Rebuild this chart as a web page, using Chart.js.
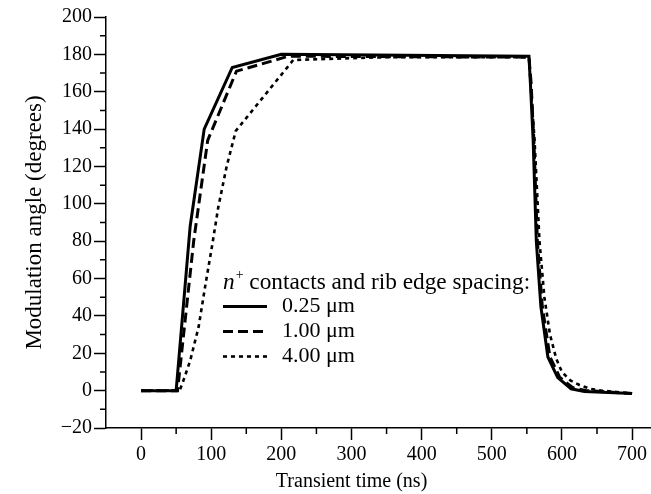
<!DOCTYPE html>
<html>
<head>
<meta charset="utf-8">
<script src="https://cdn.jsdelivr.net/npm/chart.js@4.4.1/dist/chart.umd.min.js"></script>
<style>
  html, body { margin: 0; padding: 0; background: #fff; }
  #wrap { width: 651px; height: 494px; position: relative; }
</style>
</head>
<body>
<div id="wrap"><canvas id="c" width="651" height="494"></canvas></div>
<script>
// ---- data ----
const seriesLabels = ['0.25 \u03bcm', '1.00 \u03bcm', '4.00 \u03bcm'];

const t025 = [0, 50, 70, 90, 130, 200, 553, 555, 559, 563.5, 570, 580, 594, 613, 632, 700];
const v025 = [0, 0, 88, 140, 173, 180, 179, 165, 134, 80, 45, 18, 7, 1, -0.5, -1.5];

const t100 = [0, 52, 75, 95, 136, 210, 553, 556, 560, 565, 572, 583, 597, 616, 635, 700];
const v100 = [0, 0, 80, 134, 171, 179, 178.5, 165, 134, 80, 45, 18, 7, 1.5, 0, -1.5];

const t400 = [0, 55, 60, 70, 82, 91, 101, 110, 122, 135, 217, 350, 553, 556, 561, 568, 575, 583, 592, 600, 612, 625, 640, 656, 700];
const v400 = [0, 0, 5, 16, 34, 55, 77, 98, 120, 139, 177, 178.5, 178.5, 160, 134, 80, 50, 30, 17, 10, 5.5, 3, 1, 0, -1.5];

const xTickValues = [0, 100, 200, 300, 400, 500, 600, 700];
const yTickValues = [-20, 0, 20, 40, 60, 80, 100, 120, 140, 160, 180, 200];
const xMinorValues = [50, 150, 250, 350, 450, 550, 650];
const yMinorValues = [-10, 10, 30, 50, 70, 90, 110, 130, 150, 170, 190];

const xTitle = 'Transient time (ns)';
const yTitle = 'Modulation angle (degrees)';
const legendTitleItalic = 'n';
const legendTitleSup = '+';
const legendTitleRest = ' contacts and rib edge spacing:';

// ---- build ----
function pts(t, v) { return t.map((x, i) => ({ x: x, y: v[i] })); }

const SERIF = '"Liberation Serif", "DejaVu Serif", serif';
const dashes = [[], [10, 5], [4, 4]];
const widths = [3, 3, 2.6];

const datasets = [
  { label: seriesLabels[0], data: pts(t025, v025) },
  { label: seriesLabels[1], data: pts(t100, v100) },
  { label: seriesLabels[2], data: pts(t400, v400) }
].map((d, i) => Object.assign(d, {
  borderColor: '#000',
  backgroundColor: '#000',
  borderWidth: widths[i],
  borderDash: dashes[i],
  pointRadius: 0,
  tension: 0,
  fill: false
}));

const minorTicks = {
  id: 'minorTicks',
  afterDraw(chart) {
    const ctx = chart.ctx;
    const xs = chart.scales.x, ys = chart.scales.y;
    ctx.save();
    ctx.strokeStyle = '#000';
    ctx.lineWidth = 1.5;
    ctx.beginPath();
    xMinorValues.forEach(v => {
      const px = xs.getPixelForValue(v);
      ctx.moveTo(px, xs.top);
      ctx.lineTo(px, xs.top + 6);
    });
    yMinorValues.forEach(v => {
      const py = ys.getPixelForValue(v);
      ctx.moveTo(ys.right, py);
      ctx.lineTo(ys.right - 6, py);
    });
    ctx.stroke();
    ctx.restore();
  }
};

// x-axis title, centred a little left of the middle of the tick range
const xAxisTitle = {
  id: 'xAxisTitle',
  afterDraw(chart) {
    const ctx = chart.ctx;
    const xs = chart.scales.x;
    const cx = (xs.getPixelForValue(xTickValues[0]) + xs.getPixelForValue(xTickValues[xTickValues.length - 1])) / 2 - 35;
    ctx.save();
    ctx.fillStyle = '#000';
    ctx.font = '20px ' + SERIF;
    ctx.textAlign = 'center';
    ctx.textBaseline = 'middle';
    ctx.fillText(xTitle, cx, xs.bottom - 12);
    ctx.restore();
  }
};

const insideLegend = {
  id: 'insideLegend',
  afterDatasetsDraw(chart) {
    const ctx = chart.ctx;
    const a = chart.chartArea;
    const x0 = a.left + 117;
    const yTitleRow = a.top + 266;
    const firstGap = 23.5;
    const rowGap = 25;
    ctx.save();
    ctx.fillStyle = '#000';
    ctx.textBaseline = 'middle';
    ctx.textAlign = 'left';
    // title with italic n and superscript +
    ctx.font = 'italic 23.3px ' + SERIF;
    ctx.fillText(legendTitleItalic, x0, yTitleRow);
    let w = ctx.measureText(legendTitleItalic).width;
    ctx.font = '14px ' + SERIF;
    ctx.fillText(legendTitleSup, x0 + w + 1, yTitleRow - 8);
    w += ctx.measureText(legendTitleSup).width + 1;
    ctx.font = '23.3px ' + SERIF;
    ctx.fillText(legendTitleRest, x0 + w, yTitleRow);
    chart.data.datasets.forEach((ds, i) => {
      const y = yTitleRow + firstGap + rowGap * i;
      ctx.strokeStyle = ds.borderColor;
      ctx.lineWidth = ds.borderWidth;
      ctx.setLineDash(ds.borderDash);
      ctx.beginPath();
      ctx.moveTo(x0, y);
      ctx.lineTo(x0 + 44, y);
      ctx.stroke();
      ctx.setLineDash([]);
      ctx.font = '22px ' + SERIF;
      ctx.fillText(ds.label, x0 + 59, y);
    });
    ctx.restore();
  }
};

new Chart(document.getElementById('c'), {
  type: 'line',
  data: { datasets: datasets },
  plugins: [minorTicks, xAxisTitle, insideLegend],
  options: {
    responsive: false,
    animation: false,
    devicePixelRatio: 1,
    layout: { padding: { top: 17, right: 0, left: 0, bottom: 0 } },
    plugins: { legend: { display: false }, tooltip: { enabled: false } },
    scales: {
      x: {
        type: 'linear',
        min: -50,
        max: 727,
        afterBuildTicks(scale) { scale.ticks = xTickValues.map(v => ({ value: v })); },
        afterFit(scale) { scale.height = 66; },
        ticks: { color: '#000', font: { family: SERIF, size: 20 }, padding: 3, maxRotation: 0 },
        grid: { drawOnChartArea: false, drawTicks: true, tickLength: 12, tickColor: '#000', tickWidth: 1.5 },
        border: { display: true, color: '#000', width: 1.5 },
        title: { display: false }
      },
      y: {
        type: 'linear',
        min: -20,
        max: 200,
        afterBuildTicks(scale) { scale.ticks = yTickValues.map(v => ({ value: v })); },
        afterFit(scale) { scale.width = 106; },
        ticks: { color: '#000', font: { family: SERIF, size: 20 }, padding: 2,
          callback: v => (v < 0 ? '\u2212' + Math.abs(v) : String(v)) },
        grid: { drawOnChartArea: false, drawTicks: true, tickLength: 12, tickColor: '#000', tickWidth: 1.5 },
        border: { display: true, color: '#000', width: 1.5 },
        title: { display: true, text: yTitle, color: '#000', font: { family: SERIF, size: 23 }, padding: { top: 21, bottom: 0 } }
      }
    }
  }
});
</script>
</body>
</html>
